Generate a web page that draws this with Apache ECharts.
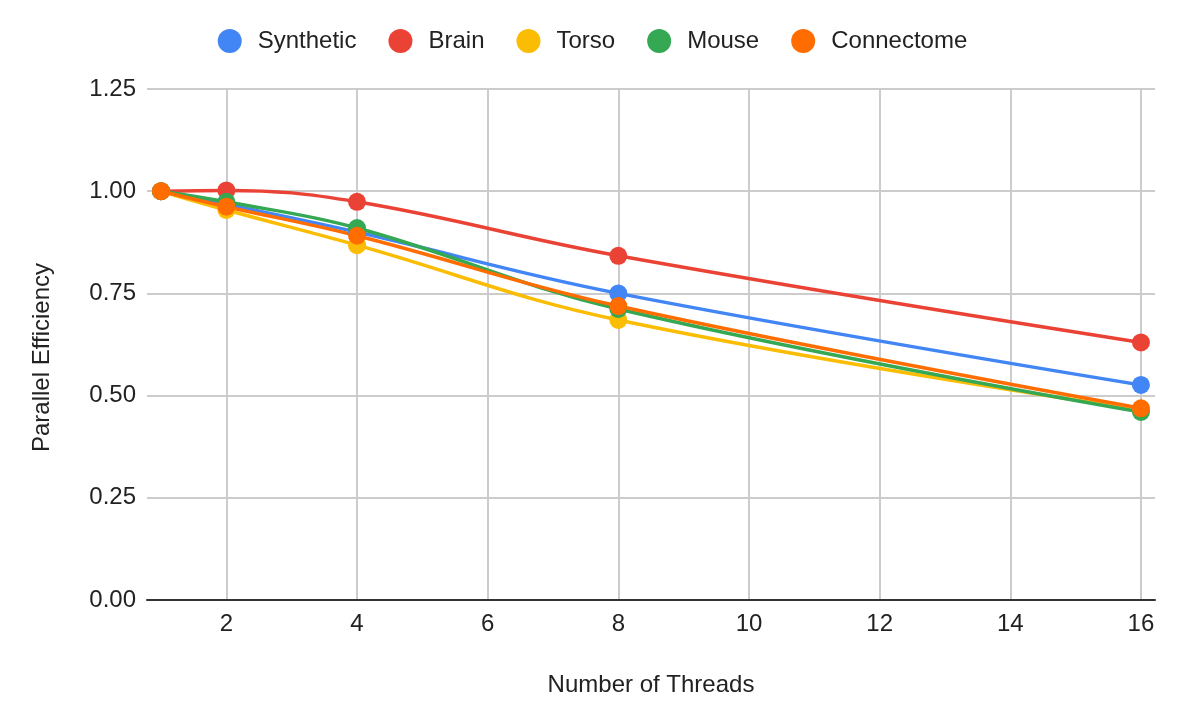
<!DOCTYPE html>
<html>
<head>
<meta charset="utf-8">
<script src="https://cdn.jsdelivr.net/npm/echarts@6/dist/echarts.min.js"></script>
<style>
  html, body { margin: 0; padding: 0; background: #fff; }
  #chart { width: 1185px; height: 726px; }
</style>
</head>
<body>
<div id="chart"></div>
<script>
'use strict'

const threads = [1, 2, 4, 8, 16]
const xTicks = [2, 4, 6, 8, 10, 12, 14, 16]
const synthetic = [1.0, 0.968, 0.900, 0.750, 0.526]
const brain = [1.0, 1.002, 0.974, 0.842, 0.630]
const torso = [1.0, 0.954, 0.868, 0.685, 0.465]
const mouse = [1.0, 0.974, 0.910, 0.712, 0.460]
const connectome = [1.0, 0.962, 0.891, 0.719, 0.469]

const names = ['Synthetic', 'Brain', 'Torso', 'Mouse', 'Connectome']
const values = [synthetic, brain, torso, mouse, connectome]
const colors = ['#4285f4', '#ea4335', '#fbbc04', '#34a853', '#ff6d01']

const FONT = "'Liberation Sans', Arial, sans-serif"
const chart = echarts.init(document.getElementById('chart'))

const series = names.map((name, i) => {
  return {
    name,
    type: 'line',
    smooth: 0.4,
    symbol: 'circle',
    symbolSize: 18,
    data: threads.map((t, j) => [t, values[i][j]]),
    itemStyle: { color: colors[i] },
    lineStyle: { width: 3.5, color: colors[i] }
  }
})

chart.setOption({
  animation: false,
  textStyle: { fontFamily: FONT },
  legend: {
    top: 24,
    left: 'center',
    icon: 'circle',
    itemWidth: 24,
    itemHeight: 24,
    itemGap: 32,
    textStyle: { fontSize: 24, color: '#222', fontFamily: FONT, padding: [0, 0, 0, 11] },
    data: names
  },
  grid: { left: 147, right: 30, top: 89, bottom: 126 },
  xAxis: {
    type: 'value',
    min: 0.785,
    max: 16.215,
    name: 'Number of Threads',
    nameLocation: 'middle',
    nameGap: 73,
    nameTextStyle: { fontSize: 24, color: '#222', fontFamily: FONT },
    axisLine: { show: true, onZero: false, lineStyle: { color: '#333', width: 2 } },
    axisTick: { show: false, customValues: xTicks },
    axisLabel: { customValues: xTicks, fontSize: 24, color: '#222', margin: 12, fontFamily: FONT },
    splitLine: { show: true, lineStyle: { color: '#cccccc', width: 2 } }
  },
  yAxis: {
    type: 'value',
    min: 0,
    max: 1.25,
    interval: 0.25,
    name: 'Parallel Efficiency',
    nameLocation: 'middle',
    nameRotate: 90,
    nameGap: 93,
    nameTextStyle: { fontSize: 24, color: '#222', fontFamily: FONT, padding: [0, 26, 0, 0] },
    axisLine: { show: false },
    axisTick: { show: false },
    axisLabel: {
      fontSize: 24,
      color: '#222',
      margin: 11,
      fontFamily: FONT,
      formatter: v => v.toFixed(2)
    },
    splitLine: { show: true, lineStyle: { color: '#cccccc', width: 2 } }
  },
  series
})
</script>
</body>
</html>
